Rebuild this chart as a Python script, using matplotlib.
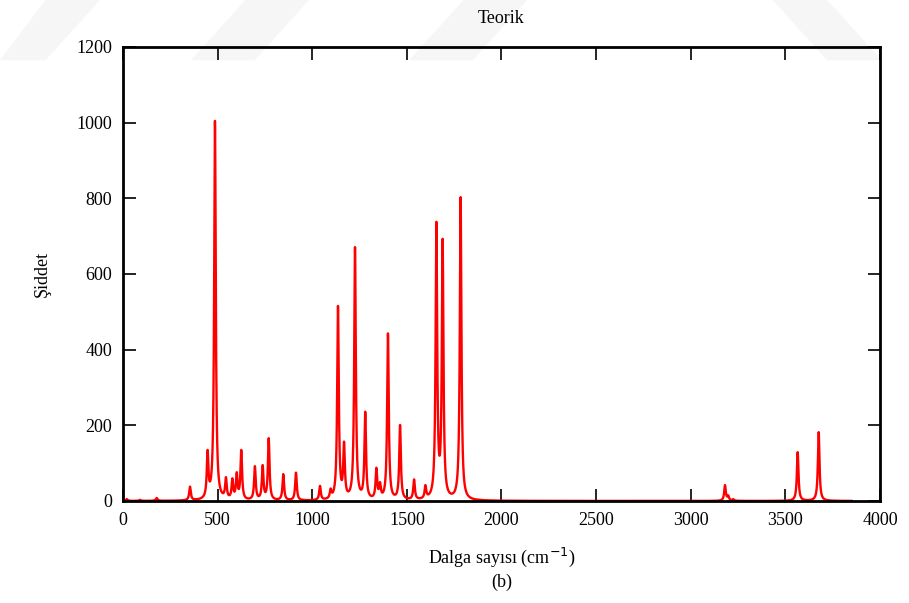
import numpy as np
import matplotlib.pyplot as plt
from matplotlib.patches import Polygon

plt.rcParams['font.family'] = ['Liberation Serif', 'DejaVu Serif']

# peak centres (cm^-1) and peak heights
centres = [20, 90, 178, 354, 447, 486, 544, 578, 601, 625, 697, 738, 770,
           847, 914, 1041, 1097, 1136, 1168, 1226, 1280, 1339, 1358, 1400,
           1464, 1538, 1598, 1656, 1689, 1784, 3181, 3198, 3224, 3565, 3676]
heights = [5, 3, 8, 38, 135, 1005, 63, 60, 76, 135, 92, 95, 166,
           71, 75, 40, 33, 516, 157, 671, 236, 88, 50, 443,
           201, 57, 42, 738, 693, 803, 42, 15, 5, 129, 182]
hwhm = 5.0

x_ticks = [0, 500, 1000, 1500, 2000, 2500, 3000, 3500, 4000]
y_ticks = [0, 200, 400, 600, 800, 1000, 1200]

c = np.array(centres, float)
h = np.array(heights, float)


def lor(d):
    return 1.0 / (1.0 + (d / hwhm) ** 2)


# amplitudes so the summed curve reaches the read heights at each centre
amp = np.linalg.solve(lor(c[:, None] - c[None, :]), h)
wn = np.linspace(0, 3850, 12000)
inten = (amp[None, :] * lor(wn[:, None] - c[None, :])).sum(axis=1)

fig = plt.figure(figsize=(9.09, 6.03), dpi=100)

# faint watermark stripes at the top
for pts in [[(0.0, 0.90), (0.05, 1.0), (0.11, 1.0), (0.05, 0.90)],
            [(0.21, 0.90), (0.27, 1.0), (0.34, 1.0), (0.28, 0.90)],
            [(0.45, 0.90), (0.51, 1.0), (0.58, 1.0), (0.52, 0.90)],
            [(0.85, 1.0), (0.91, 1.0), (0.97, 0.90), (0.91, 0.90)]]:
    fig.patches.append(Polygon(pts, closed=True, transform=fig.transFigure,
                               facecolor='#f6f6f6', edgecolor='none', zorder=-1))

ax = fig.add_axes([0.1353, 0.1692, 0.8328, 0.7529])
ax.patch.set_alpha(0)
ax.plot(wn, inten, color='red', lw=1.7, zorder=2)

ax.set_xlim(0, 4000)
ax.set_ylim(0, 1200)
ax.set_xticks(x_ticks)
ax.set_yticks(y_ticks)
ax.tick_params(direction='in', length=9, width=1.2, labelsize=13,
               top=True, right=True, pad=8)
for s in ax.spines.values():
    s.set_linewidth(2)
    s.set_zorder(5)

ax.set_title('Teorik', fontsize=13, pad=17)
ax.set_ylabel('Şiddet', fontsize=13, labelpad=18)
ax.set_xlabel('Dalga sayısı (cm$^{-1}$)\n(b)', fontsize=13, labelpad=12,
              linespacing=1.35)

plt.savefig('out.png', dpi=100)
plt.close()
